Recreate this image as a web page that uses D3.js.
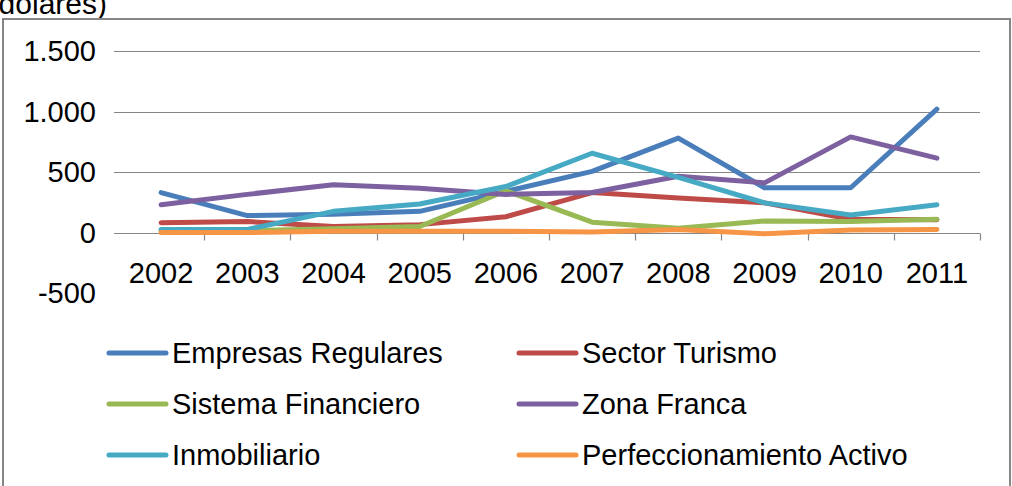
<!DOCTYPE html>
<html>
<head>
<meta charset="utf-8">
<script src="https://cdn.jsdelivr.net/npm/d3@7"></script>
<style>
html,body{margin:0;padding:0;background:#fff;overflow:hidden;}
svg{display:block;font-family:"Liberation Sans",Arial,sans-serif;}
</style>
</head>
<body>
<svg id="chart" width="1012" height="486"></svg>
<script>
const years = ["2002","2003","2004","2005","2006","2007","2008","2009","2010","2011"];
const seriesNames = ["Empresas Regulares","Sector Turismo","Sistema Financiero","Zona Franca","Inmobiliario","Perfeccionamiento Activo"];
const empresasRegulares = [330, 140, 150, 175, 340, 505, 780, 370, 370, 1020];
const sectorTurismo = [80, 90, 50, 65, 130, 330, 285, 245, 110, 105];
const sistemaFinanciero = [15, 15, 30, 50, 345, 85, 35, 95, 90, 110];
const zonaFranca = [230, 315, 395, 365, 315, 330, 465, 410, 790, 615];
const inmobiliario = [25, 25, 175, 235, 380, 655, 455, 245, 145, 230];
const perfeccionamiento = [0, 0, 10, 10, 10, 5, 25, -10, 20, 25];
const yTicks = [-500, 0, 500, 1000, 1500];
const yTickLabels = ["-500", "0", "500", "1.000", "1.500"];
const colors = ["#4A7EBB", "#BE4B48", "#98B954", "#7D60A0", "#46AAC5", "#F69546"];
const titleText = "(Millones de dólares)";

const allSeries = [empresasRegulares, sectorTurismo, sistemaFinanciero, zonaFranca, inmobiliario, perfeccionamiento];

const svg = d3.select("#chart");
const FS = 29;

// partially visible title (cut off by the top-left edge, as in the reference)
svg.append("text").attr("x", 107).attr("y", 14).attr("text-anchor", "end")
  .attr("font-size", 30).attr("fill", "#000").text(titleText);

// chart border
svg.append("rect").attr("x", 3).attr("y", 19).attr("width", 1007).attr("height", 480)
  .attr("fill", "#fff").attr("stroke", "#868686").attr("stroke-width", 2);

const x = d3.scaleBand().domain(years).range([118, 980]).padding(0);
const y = d3.scaleLinear().domain([-500, 1500]).range([293, 51]);

// gridlines (except -500)
svg.append("g").selectAll("line").data(yTicks.filter(v => v > 0)).join("line")
  .attr("x1", 114).attr("x2", 980)
  .attr("y1", d => Math.round(y(d)) + 0.5).attr("y2", d => Math.round(y(d)) + 0.5)
  .attr("stroke", "#868686").attr("stroke-width", 1.2);

// y tick labels
svg.append("g").selectAll("text").data(yTicks).join("text")
  .attr("x", 96).attr("y", d => y(d) + 10)
  .attr("text-anchor", "end").attr("font-size", FS).attr("fill", "#000")
  .text((d, i) => yTickLabels[i]);

// x axis at zero
const y0 = Math.round(y(0)) + 0.5;
const xAxis = d3.axisBottom(x).tickSize(0).tickFormat(d => d);
const gx = svg.append("g").attr("transform", `translate(0,${y0})`).call(xAxis);
gx.select(".domain").remove();
gx.selectAll("text").attr("font-size", FS).attr("fill", "#000")
  .attr("font-family", "Liberation Sans, Arial, sans-serif").attr("dy", 0).attr("y", 49);
svg.append("line").attr("x1", 114).attr("x2", 980).attr("y1", y0).attr("y2", y0)
  .attr("stroke", "#868686").attr("stroke-width", 1.2);
const boundaries = years.slice(1).map(d => x(d)).concat([x.range()[1]]);
svg.append("g").selectAll("line").data(boundaries).join("line")
  .attr("x1", d => Math.round(d) + 0.5).attr("x2", d => Math.round(d) + 0.5)
  .attr("y1", y0).attr("y2", y0 + 7)
  .attr("stroke", "#868686").attr("stroke-width", 1.2);

// lines
const line = d3.line()
  .x((d, i) => x(years[i]) + x.bandwidth() / 2)
  .y(d => y(d));
svg.append("g").selectAll("path").data(allSeries).join("path")
  .attr("d", d => line(d))
  .attr("fill", "none")
  .attr("stroke", (d, i) => colors[i])
  .attr("stroke-width", 5)
  .attr("stroke-linejoin", "round")
  .attr("stroke-linecap", "round");

// legend
const legX = [107, 517];
const legY = [353, 404, 455];
const leg = svg.append("g").selectAll("g").data(seriesNames).join("g")
  .attr("transform", (d, i) => `translate(${legX[i % 2]},${legY[Math.floor(i / 2)]})`);
leg.append("line").attr("x1", 2).attr("x2", 59).attr("y1", 0).attr("y2", 0)
  .attr("stroke", (d, i) => colors[i]).attr("stroke-width", 5).attr("stroke-linecap", "round");
leg.append("text").attr("x", 65).attr("y", 10).attr("font-size", FS).attr("fill", "#000")
  .text(d => d);
</script>
</body>
</html>
